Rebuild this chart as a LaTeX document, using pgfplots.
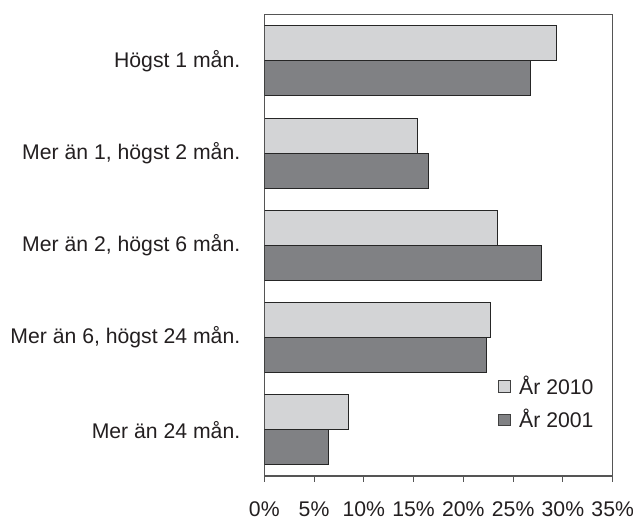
\documentclass[border=0pt]{standalone}
\usepackage{pgfplots}
\pgfplotsset{compat=1.18}
\usepackage{fontspec}
\setmainfont{Liberation Sans}
\definecolor{lightbar}{RGB}{211,212,214}
\definecolor{darkbar}{RGB}{128,129,132}
\definecolor{framec}{RGB}{85,85,85}
\definecolor{txt}{RGB}{35,31,32}
\begin{document}
\begin{tikzpicture}
\begin{axis}[
  xbar,
  scale only axis,
  width=174.2pt, height=230.65pt,
  xmin=0, xmax=35, ymin=-0.5, ymax=4.5,
  xtick={0,5,...,35},
  xticklabels={0\%,5\%,10\%,15\%,20\%,25\%,30\%,35\%},
  ytick={0,1,2,3,4},
  yticklabels={{Mer än 24 mån.},{Mer än 6, högst 24 mån.},{Mer än 2, högst 6 mån.},{Mer än 1, högst 2 mån.},{Högst 1 mån.}},
  tick align=outside, xtick pos=bottom, ytick pos=left,
  major tick length=2.9pt,
  ytick style={draw=none},
  xtick style={framec, line width=0.5pt},
  axis line style={framec, line width=0.6pt},
  bar width=17.5pt,
  tick label style={font=\fontsize{10.6}{12.7}\selectfont, text=txt},
  /pgf/number format/assume math mode=true,
  xticklabel style={yshift=-6.5pt},
  yticklabel style={xshift=-5.6pt},
  legend style={at={(axis cs:23.48,0.29)}, anchor=west, draw=none, fill=none,
    inner sep=0pt, font=\fontsize{10.6}{12.7}\selectfont, text=txt, row sep=2pt,
    nodes={inner xsep=4.2pt}},
  legend cell align=left,
  legend image code/.code={\draw[#1, draw=black!75, line width=0.4pt] (0pt,-2.9pt) rectangle (5.8pt,2.9pt);},
]
\addplot[fill=lightbar, draw=black!85, line width=0.5pt, bar shift=8.75pt]
  coordinates {(29.4,4) (15.4,3) (23.4,2) (22.7,1) (8.5,0)};
\addplot[fill=darkbar, draw=black!85, line width=0.5pt, bar shift=-8.75pt]
  coordinates {(26.7,4) (16.5,3) (27.8,2) (22.3,1) (6.5,0)};
\legend{År 2010, År 2001}
\end{axis}
\pgfresetboundingbox
\path ([shift={(-132.15pt,-23pt)}]current axis.south west) rectangle ([shift={(10.15pt,7.35pt)}]current axis.north east);
\end{tikzpicture}
\end{document}
